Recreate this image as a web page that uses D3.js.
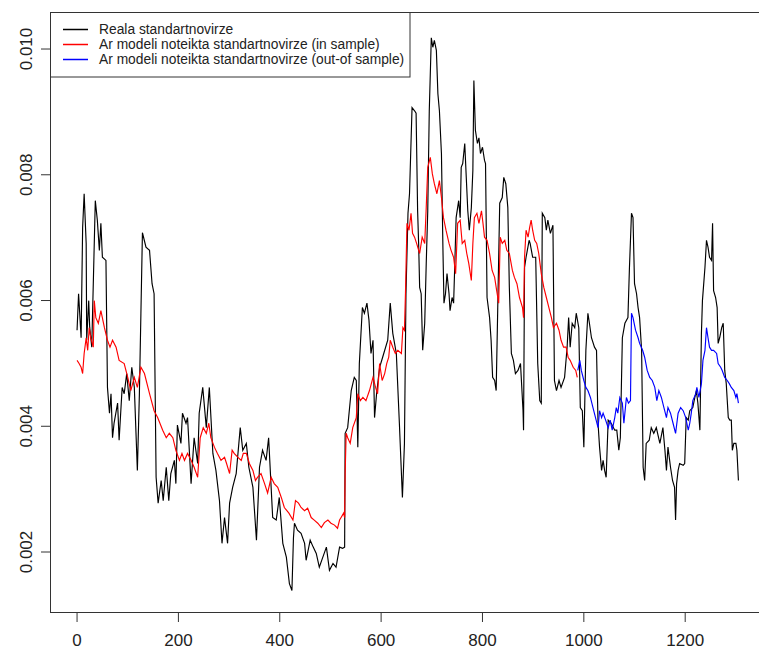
<!DOCTYPE html>
<html>
<head>
<meta charset="utf-8">
<script src="https://cdn.jsdelivr.net/npm/d3@7/dist/d3.min.js"></script>
<style>
	body { margin: 0; background: #fff; }
	svg { display: block; }
</style>
</head>
<body>
<script>

// [index, value]
var realSeries = [
	[1,0.00552],[4,0.00610],[9,0.00540],[12,0.00715],[15,0.00769],[19,0.00690],[20,0.00536],[24,0.00599],
	[26,0.00556],[30,0.00525],[37,0.00758],[41,0.00727],[45,0.00679],[48,0.00722],[51,0.00668],[58,0.00663],
	[61,0.00461],[65,0.00420],[68,0.00451],[71,0.00381],[74,0.00404],[81,0.00436],[84,0.00377],[90,0.00461],
	[94,0.00451],[99,0.00483],[104,0.00440],[109,0.00493],[114,0.00461],[120,0.00329],[124,0.00451],[127,0.00579],
	[130,0.00707],[137,0.00684],[144,0.00679],[149,0.00626],[153,0.00610],[157,0.00318],[161,0.00277],[167,0.00313],
	[171,0.00281],[177,0.00334],[182,0.00281],[186,0.00324],[193,0.00345],[196,0.00308],[199,0.00401],[206,0.00372],
	[209,0.00420],[216,0.00404],[219,0.00413],[226,0.00308],[232,0.00381],[239,0.00340],[242,0.00420],[249,0.00461],
	[256,0.00397],[262,0.00461],[269,0.00356],[275,0.00329],[282,0.00281],[287,0.00213],[292,0.00254],[298,0.00213],
	[302,0.00277],[308,0.00302],[315,0.00324],[323,0.00397],[328,0.00361],[335,0.00372],[340,0.00334],[348,0.00302],
	[355,0.00218],[361,0.00334],[367,0.00361],[374,0.00345],[379,0.00381],[387,0.00254],[394,0.00250],[400,0.00286],
	[407,0.00213],[414,0.00191],[420,0.00149],[425,0.00138],[428,0.00222],[430,0.00245],[436,0.00234],[443,0.00229],
	[450,0.00213],[453,0.00186],[461,0.00218],[467,0.00207],[473,0.00197],[479,0.00175],[486,0.00191],[493,0.00207],
	[499,0.00170],[506,0.00181],[512,0.00175],[519,0.00207],[525,0.00205],[529,0.00207],[530,0.00388],[535,0.00397],
	[542,0.00456],[548,0.00477],[552,0.00472],[555,0.00366],[558,0.00499],[564,0.00588],[568,0.00579],[573,0.00595],
	[577,0.00568],[581,0.00515],[585,0.00536],[588,0.00413],[592,0.00451],[598,0.00493],[604,0.00509],[614,0.00536],
	[619,0.00595],[624,0.00547],[631,0.00515],[637,0.00404],[643,0.00286],[647,0.00372],[650,0.00610],[654,0.00738],
	[657,0.00769],[662,0.00906],[667,0.00901],[670,0.00897],[673,0.00742],[675,0.00690],[677,0.00620],[680,0.00610],
	[683,0.00520],[687,0.00563],[690,0.00658],[693,0.00742],[696,0.00901],[700,0.01017],[703,0.01002],[706,0.01013],
	[710,0.00997],[713,0.00928],[716,0.00901],[720,0.00833],[723,0.00679],[725,0.00595],[728,0.00610],[731,0.00642],
	[735,0.00610],[737,0.00583],[741,0.00604],[744,0.00595],[746,0.00647],[749,0.00731],[754,0.00758],[757,0.00731],
	[759,0.00811],[762,0.00817],[766,0.00849],[769,0.00795],[772,0.00742],[775,0.00711],[779,0.00747],[782,0.00806],
	[784,0.00949],[787,0.00870],[791,0.00849],[794,0.00858],[797,0.00833],[801,0.00843],[805,0.00822],[807,0.00817],
	[810,0.00604],[815,0.00572],[818,0.00536],[821,0.00477],[825,0.00472],[828,0.00456],[831,0.00583],[835,0.00754],
	[840,0.00763],[843,0.00795],[847,0.00785],[851,0.00747],[854,0.00620],[858,0.00515],[862,0.00504],[866,0.00483],
	[871,0.00488],[876,0.00499],[881,0.00424],[882,0.00393],[884,0.00652],[887,0.00668],[893,0.00695],[895,0.00690],
	[900,0.00668],[906,0.00668],[910,0.00499],[914,0.00440],[917,0.00436],[919,0.00738],[924,0.00731],[927,0.00711],
	[930,0.00727],[935,0.00706],[940,0.00719],[943,0.00472],[947,0.00456],[952,0.00472],[956,0.00461],[963,0.00477],
	[968,0.00525],[971,0.00572],[974,0.00525],[978,0.00563],[983,0.00556],[986,0.00579],[991,0.00556],[994,0.00429],
	[998,0.00424],[1001,0.00366],[1005,0.00520],[1009,0.00579],[1012,0.00563],[1016,0.00540],[1022,0.00525],[1026,0.00520],
	[1029,0.00404],[1032,0.00366],[1036,0.00329],[1039,0.00345],[1042,0.00329],[1045,0.00318],[1049,0.00409],[1055,0.00404],
	[1062,0.00393],[1066,0.00393],[1070,0.00361],[1073,0.00381],[1077,0.00540],[1082,0.00563],[1088,0.00572],[1091,0.00652],
	[1095,0.00738],[1098,0.00731],[1101,0.00626],[1105,0.00610],[1108,0.00588],[1111,0.00572],[1115,0.00520],[1118,0.00334],
	[1121,0.00313],[1124,0.00372],[1130,0.00377],[1134,0.00397],[1139,0.00388],[1144,0.00397],[1151,0.00372],[1157,0.00397],
	[1161,0.00361],[1164,0.00329],[1167,0.00366],[1172,0.00334],[1176,0.00313],[1180,0.00302],[1182,0.00250],[1184,0.00308],
	[1187,0.00329],[1190,0.00340],[1197,0.00337],[1200,0.00340],[1203,0.00413],[1207,0.00409],[1210,0.00424],[1216,0.00429],
	[1220,0.00445],[1223,0.00456],[1226,0.00436],[1230,0.00393],[1233,0.00547],[1235,0.00599],[1240,0.00652],[1243,0.00695],
	[1246,0.00684],[1249,0.00668],[1253,0.00663],[1255,0.00722],[1257,0.00615],[1261,0.00604],[1264,0.00588],[1266,0.00531],
	[1269,0.00540],[1273,0.00556],[1276,0.00563],[1279,0.00488],[1282,0.00467],[1286,0.00413],[1289,0.00409],[1292,0.00409],
	[1294,0.00361],[1297,0.00372],[1301,0.00372],[1303,0.00361],[1306,0.00313]
];

var inSample = [
	[1,0.00504],[5,0.00499],[9,0.00493],[12,0.00483],[15,0.00515],[19,0.00540],[22,0.00520],[25,0.00556],
	[28,0.00540],[33,0.00525],[35,0.00599],[38,0.00572],[43,0.00563],[48,0.00583],[55,0.00556],[61,0.00536],
	[66,0.00525],[71,0.00536],[78,0.00525],[84,0.00504],[94,0.00499],[101,0.00477],[107,0.00456],[114,0.00477],
	[120,0.00461],[127,0.00493],[134,0.00483],[144,0.00451],[153,0.00424],[160,0.00413],[170,0.00393],[177,0.00381],
	[183,0.00388],[190,0.00381],[196,0.00361],[203,0.00345],[208,0.00356],[213,0.00345],[219,0.00356],[226,0.00345],
	[232,0.00334],[239,0.00318],[244,0.00381],[250,0.00397],[256,0.00388],[261,0.00404],[265,0.00381],[272,0.00366],
	[278,0.00356],[285,0.00345],[292,0.00350],[296,0.00340],[302,0.00324],[307,0.00361],[311,0.00356],[318,0.00350],
	[325,0.00345],[329,0.00356],[335,0.00356],[341,0.00340],[348,0.00329],[353,0.00313],[357,0.00318],[364,0.00324],
	[371,0.00308],[377,0.00293],[384,0.00318],[390,0.00308],[397,0.00302],[404,0.00286],[410,0.00270],[419,0.00261],
	[427,0.00250],[432,0.00281],[438,0.00277],[443,0.00270],[450,0.00265],[456,0.00269],[463,0.00254],[469,0.00250],
	[476,0.00245],[483,0.00238],[489,0.00246],[496,0.00250],[502,0.00245],[509,0.00242],[515,0.00237],[519,0.00250],
	[522,0.00254],[527,0.00261],[529,0.00254],[530,0.00324],[532,0.00388],[535,0.00381],[540,0.00372],[545,0.00397],
	[552,0.00413],[555,0.00451],[560,0.00440],[565,0.00445],[571,0.00440],[578,0.00456],[585,0.00477],[590,0.00461],
	[594,0.00451],[598,0.00499],[603,0.00472],[608,0.00483],[612,0.00499],[616,0.00509],[619,0.00536],[624,0.00525],
	[629,0.00515],[634,0.00520],[641,0.00515],[644,0.00556],[647,0.00552],[649,0.00610],[652,0.00722],[656,0.00711],
	[660,0.00738],[663,0.00706],[667,0.00700],[671,0.00690],[677,0.00674],[682,0.00700],[687,0.00690],[690,0.00747],
	[693,0.00811],[698,0.00827],[702,0.00801],[706,0.00785],[711,0.00769],[716,0.00790],[720,0.00763],[724,0.00731],
	[729,0.00711],[735,0.00690],[739,0.00679],[744,0.00668],[748,0.00642],[752,0.00722],[757,0.00727],[761,0.00690],
	[766,0.00695],[770,0.00674],[774,0.00658],[779,0.00631],[782,0.00690],[785,0.00731],[790,0.00738],[794,0.00722],
	[799,0.00742],[802,0.00722],[805,0.00700],[810,0.00695],[815,0.00674],[820,0.00647],[825,0.00636],[829,0.00615],
	[833,0.00595],[836,0.00700],[840,0.00690],[845,0.00695],[849,0.00679],[854,0.00674],[860,0.00647],[864,0.00636],
	[869,0.00626],[874,0.00604],[880,0.00588],[882,0.00572],[884,0.00668],[887,0.00711],[891,0.00700],[894,0.00715],
	[897,0.00727],[900,0.00711],[904,0.00695],[908,0.00690],[912,0.00674],[917,0.00642],[922,0.00620],[927,0.00604],
	[932,0.00588],[937,0.00572],[941,0.00556],[947,0.00563],[952,0.00552],[956,0.00536],[961,0.00525],[966,0.00525],
	[970,0.00509],[974,0.00504],[980,0.00493],[985,0.00488],[988,0.00477]
];

var outSample = [
	[989,0.00488],[993,0.00504],[996,0.00488],[1001,0.00472],[1005,0.00461],[1009,0.00456],[1014,0.00445],[1019,0.00429],
	[1024,0.00413],[1029,0.00397],[1032,0.00424],[1036,0.00413],[1039,0.00420],[1044,0.00409],[1049,0.00397],[1053,0.00409],
	[1057,0.00393],[1062,0.00413],[1065,0.00429],[1068,0.00420],[1072,0.00445],[1077,0.00436],[1080,0.00404],[1085,0.00445],
	[1089,0.00436],[1093,0.00440],[1095,0.00579],[1098,0.00572],[1103,0.00552],[1108,0.00540],[1111,0.00531],[1117,0.00520],
	[1121,0.00509],[1126,0.00488],[1131,0.00477],[1136,0.00472],[1141,0.00461],[1145,0.00440],[1149,0.00456],[1154,0.00445],
	[1159,0.00429],[1164,0.00413],[1167,0.00429],[1172,0.00420],[1177,0.00404],[1182,0.00388],[1187,0.00420],[1192,0.00429],
	[1197,0.00424],[1202,0.00413],[1207,0.00393],[1210,0.00404],[1213,0.00420],[1216,0.00440],[1222,0.00451],[1224,0.00461],
	[1228,0.00445],[1233,0.00467],[1236,0.00504],[1240,0.00520],[1243,0.00556],[1246,0.00540],[1249,0.00525],[1253,0.00520],
	[1257,0.00520],[1263,0.00515],[1266,0.00499],[1271,0.00493],[1274,0.00488],[1279,0.00477],[1284,0.00472],[1288,0.00467],
	[1292,0.00461],[1297,0.00456],[1301,0.00445],[1303,0.00451],[1306,0.00436]
];

var xTicks = [0, 200, 400, 600, 800, 1000, 1200];
var yTicks = [0.002, 0.004, 0.006, 0.008, 0.010];
var legendLabels = [
	'Reala standartnovirze',
	'Ar modeli noteikta standartnovirze (in sample)',
	'Ar modeli noteikta standartnovirze (out-of sample)'
];
var legendColors = ['#000000', '#ff0000', '#0000ff'];

var Chart = {

	render: function() {

		var width = 759,
			height = 651,
			left = 50.5,
			right = 767,
			top = 12.5,
			bottom = 612.5,
			font = '"Liberation Sans", Arial, sans-serif';

		var svg = d3.select('body')
			.append('svg')
			.attr('width', width)
			.attr('height', height);

		// R style limits: data range padded 4% each side
		var x = d3.scaleLinear()
			.domain([-51.4, 1362.4])
			.range([left, right]);

		var y = d3.scaleLinear()
			.domain([0.00103, 0.010573])
			.range([bottom, top]);

		var line = d3.line()
			.x(function(d) { return x(d[0]); })
			.y(function(d) { return y(d[1]); });

		// series, black first so the model lines sit on top
		[[realSeries, '#000000'], [inSample, '#ff0000'], [outSample, '#0000ff']].forEach(function(s) {
			svg.append('path')
				.datum(s[0])
				.attr('d', line)
				.attr('fill', 'none')
				.attr('stroke', s[1])
				.attr('stroke-width', 1.15);
		});

		// plot box
		svg.append('rect')
			.attr('x', left)
			.attr('y', top)
			.attr('width', right - left)
			.attr('height', bottom - top)
			.attr('fill', 'none')
			.attr('stroke', '#333')
			.attr('stroke-width', 1);

		// x axis
		var xAxis = svg.append('g')
			.attr('transform', 'translate(0,' + bottom + ')')
			.call(d3.axisBottom(x).tickValues(xTicks).tickSize(9.5).tickPadding(12).tickFormat(d3.format('d')));
		xAxis.select('.domain').remove();
		xAxis.selectAll('line').attr('stroke', '#333');
		xAxis.selectAll('text')
			.attr('fill', '#222')
			.style('font-family', font)
			.style('font-size', '17px');

		// y axis, labels turned like R's las=0
		var yAxis = svg.append('g')
			.attr('transform', 'translate(' + left + ',0)')
			.call(d3.axisLeft(y).tickValues(yTicks).tickSize(9.5).tickFormat(d3.format('.3f')));
		yAxis.select('.domain').remove();
		yAxis.selectAll('line').attr('stroke', '#333');
		yAxis.selectAll('text')
			.attr('fill', '#222')
			.attr('x', null)
			.attr('text-anchor', 'middle')
			.attr('transform', 'translate(-24,0) rotate(-90)')
			.attr('dy', '0.35em')
			.style('font-family', font)
			.style('font-size', '17px');

		// legend
		var legend = svg.append('g');
		legend.append('rect')
			.attr('x', left)
			.attr('y', top)
			.attr('width', 359.5)
			.attr('height', 64.5)
			.attr('fill', '#fff')
			.attr('stroke', '#333')
			.attr('stroke-width', 1);

		legendLabels.forEach(function(label, i) {
			var ly = 29.5 + i * 15;
			legend.append('line')
				.attr('x1', 63)
				.attr('x2', 88)
				.attr('y1', ly)
				.attr('y2', ly)
				.attr('stroke', legendColors[i])
				.attr('stroke-width', 1.5);
			legend.append('text')
				.text(label)
				.attr('x', 99)
				.attr('y', ly)
				.attr('dy', '0.35em')
				.attr('fill', '#222')
				.style('font-family', font)
				.style('font-size', '13.8px');
		});
	}
};

Chart.render();
</script>
</body>
</html>
